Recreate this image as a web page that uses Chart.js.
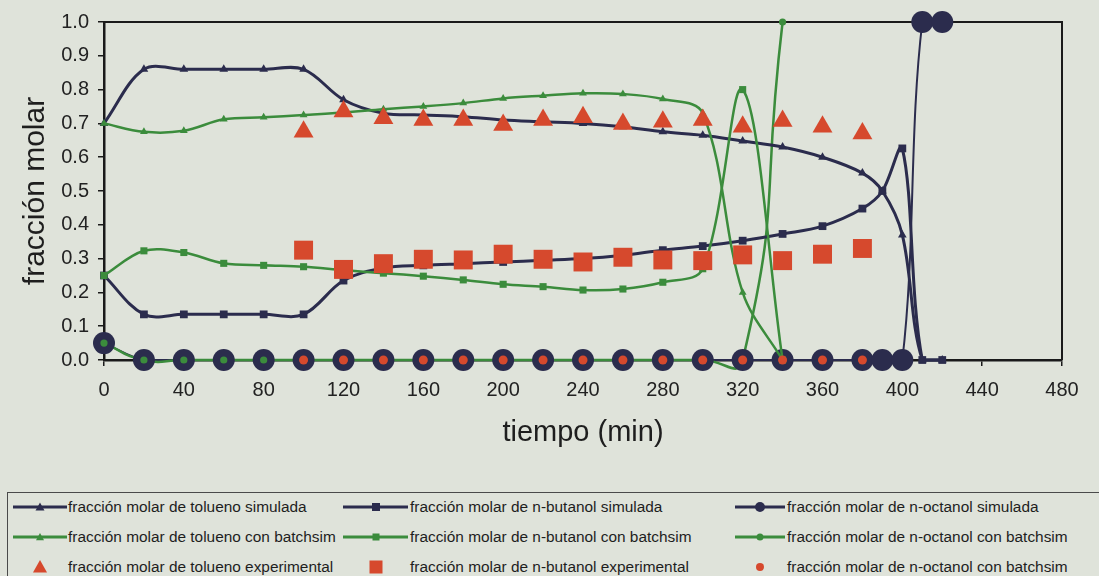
<!DOCTYPE html>
<html><head><meta charset="utf-8">
<script src="https://cdn.jsdelivr.net/npm/chart.js@4.4.1/dist/chart.umd.min.js"></script>
<style>
html,body{margin:0;padding:0;background:#dfe3da;width:1099px;height:576px;overflow:hidden;font-family:"Liberation Sans",Arial,sans-serif;}
#wrap{position:absolute;left:0;top:0;width:1099px;height:492px;}
#legend{position:absolute;left:7px;top:492px;width:1110px;height:100px;border:1px solid #4a4a4a;box-sizing:border-box;}
.item{position:absolute;height:20px;font-size:15.4px;color:#1e1e1e;line-height:20px;white-space:nowrap;}
.smp{position:absolute;top:0;}
</style></head><body>
<div id="wrap"><canvas id="c" width="1099" height="492"></canvas></div>
<div id="legend"></div>
<script>
// ---- data ----
const timeSim   = [0,20,40,60,80,100,120,140,160,180,200,220,240,260,280,300,320,340,360,380,390,400,410,420];
const tolSim    = [0.70,0.86,0.86,0.86,0.86,0.86,0.77,0.73,0.725,0.72,0.71,0.705,0.70,0.69,0.675,0.665,0.648,0.63,0.60,0.553,0.50,0.37,0.0,0.0];
const butSim    = [0.25,0.135,0.135,0.135,0.135,0.135,0.235,0.272,0.28,0.285,0.29,0.295,0.30,0.31,0.325,0.337,0.353,0.373,0.396,0.448,0.50,0.626,0.0,0.0];
const octSim    = [0.05,0,0,0,0,0,0,0,0,0,0,0,0,0,0,0,0,0,0,0,0,0,1.0,1.0];

const timeBatch = [0,20,40,60,80,100,120,140,160,180,200,220,240,260,280,300,320,340];
const tolBatch  = [0.70,0.675,0.678,0.712,0.718,0.725,0.732,0.742,0.75,0.76,0.774,0.782,0.789,0.787,0.772,0.73,0.20,0.0];
const butBatch  = [0.25,0.323,0.318,0.286,0.28,0.276,0.266,0.257,0.248,0.237,0.224,0.217,0.207,0.21,0.23,0.27,0.80,0.0];
const octBatch  = [0.05,0,0,0,0,0,0,0,0,0,0,0,0,0,0,0,0,1.0];

const timeExp   = [100,120,140,160,180,200,220,240,260,280,300,320,340,360,380];
const tolExp    = [0.675,0.735,0.715,0.71,0.71,0.695,0.71,0.718,0.698,0.705,0.71,0.69,0.707,0.69,0.67];
const butExp    = [0.325,0.268,0.285,0.298,0.296,0.313,0.298,0.29,0.304,0.296,0.294,0.311,0.294,0.313,0.33];
const octExp    = [0,0,0,0,0,0,0,0,0,0,0,0,0,0,0];

const xTickVals   = [0,40,80,120,160,200,240,280,320,360,400,440,480];
const yTickVals   = [0,0.1,0.2,0.3,0.4,0.5,0.6,0.7,0.8,0.9,1.0];
const yTickLabels = ['0.0','0.1','0.2','0.3','0.4','0.5','0.6','0.7','0.8','0.9','1.0'];

const legendLabels = [
  'fracción molar de tolueno simulada','fracción molar de n-butanol simulada','fracción molar de n-octanol simulada',
  'fracción molar de tolueno con batchsim','fracción molar de n-butanol con batchsim','fracción molar de n-octanol con batchsim',
  'fracción molar de tolueno experimental','fracción molar de n-butanol experimental','fracción molar de n-octanol con batchsim'
];

// ---- styles ----
const navy='#2b2c4d', green='#3b8c3c', red='#d6492d';
const FONT='"Liberation Sans", Arial, sans-serif';
function pts(xs, ys){ return xs.map((x,i)=>({x:x, y:ys[i]})); }

function lineDs(xs, ys, color, width, style, radius, order, extra){
  return Object.assign({
    data: pts(xs, ys), borderColor: color, backgroundColor: color, borderWidth: width,
    pointStyle: style, pointRadius: radius, pointBorderWidth: 0, pointBackgroundColor: color,
    tension: 0.35, clip: false, order: order, fill: false
  }, extra || {});
}

const datasets = [
  lineDs(timeSim, octSim, navy, 2, 'circle', 0, 7),                       // navy octanol line
  lineDs(timeBatch, octBatch, green, 2.5, 'circle', 0, 6, {capBezierPoints:false, tension:0.55}), // green octanol line
  lineDs(timeSim, octSim, navy, 0, 'circle', 11, 5, {showLine:false}),   // navy octanol circles
  lineDs(timeSim, tolSim, navy, 3, 'triangle', 5, 4),
  lineDs(timeSim, butSim, navy, 3, 'rect', 5.5, 4),
  lineDs(timeBatch, tolBatch, green, 2.5, 'triangle', 4.5, 3),
  lineDs(timeBatch, butBatch, green, 2.5, 'rect', 5, 3),
  lineDs(timeBatch, octBatch, green, 0, 'circle', 3.6, 2, {showLine:false}),
  lineDs(timeExp, tolExp, red, 0, 'triangle', 11.5, 1, {showLine:false}),
  lineDs(timeExp, butExp, red, 0, 'rect', 13.4, 1, {showLine:false}),
  lineDs(timeExp, octExp, red, 0, 'circle', 4.5, 0, {showLine:false})
];

const frame = { id:'frame', beforeDatasetsDraw(chart){
  const {ctx, chartArea:a} = chart; ctx.save(); ctx.strokeStyle='#1a1a1a'; ctx.lineWidth=2;
  ctx.beginPath(); ctx.moveTo(a.left, a.top); ctx.lineTo(a.right, a.top); ctx.lineTo(a.right, a.bottom); ctx.stroke(); ctx.restore();
}};

new Chart(document.getElementById('c'), {
  type: 'line',
  data: { datasets: datasets },
  plugins: [frame],
  options: {
    responsive: false, animation: false, events: [],
    layout: { padding: { top: 22, right: 37, left: 0, bottom: 0 } },
    plugins: { legend: { display: false }, tooltip: { enabled: false } },
    scales: {
      x: {
        type: 'linear', min: 0, max: 480,
        afterBuildTicks: s => { s.ticks = xTickVals.map(v => ({value: v})); },
        afterFit: s => { s.height = 132; },
        grid: { drawOnChartArea: false, drawTicks: true, tickLength: 6, color: '#1a1a1a', lineWidth: 1.5 },
        border: { display: true, color: '#1a1a1a', width: 2.5 },
        ticks: { padding: 12, color: '#222', font: { family: FONT, size: 20 }, maxRotation: 0, callback: v => String(v) },
        title: { display: true, text: 'tiempo (min)', color: '#1e1e1e', font: { family: FONT, size: 29 }, padding: { top: 0, bottom: 42 } }
      },
      y: {
        type: 'linear', min: 0, max: 1,
        afterBuildTicks: s => { s.ticks = yTickVals.map(v => ({value: v})); },
        afterFit: s => { s.width = 104; },
        grid: { drawOnChartArea: false, drawTicks: true, tickLength: 6, color: '#1a1a1a', lineWidth: 1.5 },
        border: { display: true, color: '#1a1a1a', width: 2.5 },
        ticks: { padding: 9, color: '#222', font: { family: FONT, size: 20 }, callback: (v, i) => yTickLabels[i] },
        title: { display: true, text: 'fracción molar', color: '#1e1e1e', font: { family: FONT, size: 30 }, padding: { top: 18, bottom: 0 } }
      }
    }
  }
});

// ---- HTML legend ----
const cols = [ {ls:13, le:67, mx:40, tx:68}, {ls:343, le:408, mx:376, tx:410}, {ls:735, le:785, mx:760, tx:787} ];
const rowY = [507, 537, 567];
const legendStyle = [
  {c:navy, line:true, m:'tri', s:9}, {c:navy, line:true, m:'sq', s:8}, {c:navy, line:true, m:'cir', s:10},
  {c:green, line:true, m:'tri', s:8}, {c:green, line:true, m:'sq', s:7}, {c:green, line:true, m:'cir', s:7},
  {c:red, line:false, m:'tri', s:14}, {c:red, line:false, m:'sq', s:13}, {c:red, line:false, m:'cir', s:8}
];
const lg = document.getElementById('legend');
const offX = 8, offY = 493;
legendLabels.forEach((lab, i) => {
  const col = cols[i % 3], row = Math.floor(i / 3), st = legendStyle[i];
  const top = rowY[row] - 10 - offY;
  const w = col.tx - col.ls;
  const mx = col.mx - col.ls, h = st.s;
  let mk = '';
  if (st.m === 'tri') mk = `<polygon points="${mx-h/2},${10+h*0.4} ${mx+h/2},${10+h*0.4} ${mx},${10-h*0.5}" fill="${st.c}"/>`;
  if (st.m === 'sq') mk = `<rect x="${mx-h/2}" y="${10-h/2}" width="${h}" height="${h}" fill="${st.c}"/>`;
  if (st.m === 'cir') mk = `<circle cx="${mx}" cy="10" r="${h/2}" fill="${st.c}"/>`;
  const ln = st.line ? `<line x1="0" y1="10" x2="${col.le-col.ls}" y2="10" stroke="${st.c}" stroke-width="3"/>` : '';
  const d = document.createElement('div');
  d.className = 'item';
  d.style.left = (col.ls - offX) + 'px'; d.style.top = top + 'px';
  d.innerHTML = `<svg class="smp" width="${w}" height="20" style="left:0">${ln}${mk}</svg><span style="position:absolute;left:${col.tx-col.ls}px;top:0">${lab}</span>`;
  lg.appendChild(d);
});
</script>
</body></html>
